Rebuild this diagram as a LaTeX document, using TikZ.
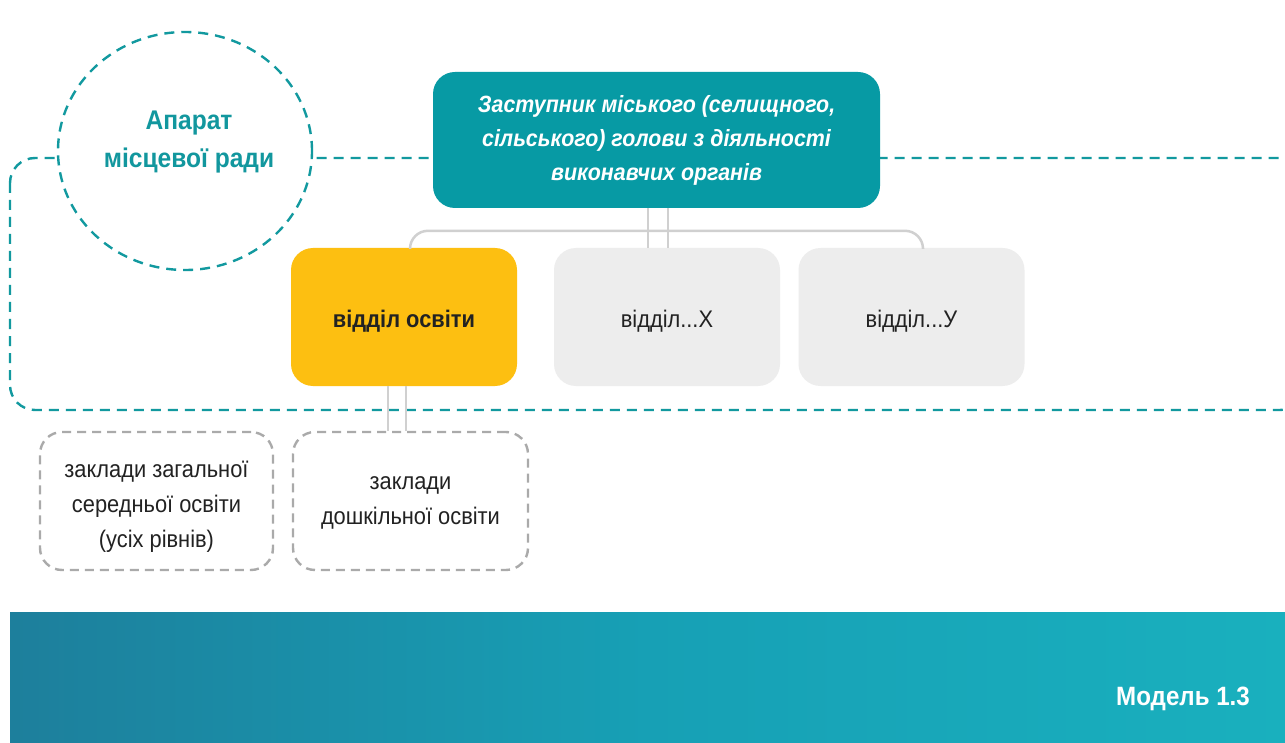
\documentclass[tikz,border=0pt]{standalone}
\usepackage{fontspec}
\setmainfont{Liberation Sans}[FakeStretch=0.91]
\usetikzlibrary{shapes.geometric,calc}
\definecolor{tealbox}{HTML}{079AA4}
\definecolor{tealline}{HTML}{12999F}
\definecolor{tealtext}{HTML}{12979E}
\definecolor{yellowbox}{HTML}{FDBF11}
\definecolor{graybox}{HTML}{EDEDED}
\definecolor{connc}{HTML}{D0D0D0}
\definecolor{dashgray}{HTML}{AAAAAA}
\definecolor{darktext}{HTML}{222222}
\definecolor{bandL}{HTML}{1D7F9C}
\definecolor{bandM}{HTML}{17A0B5}
\definecolor{bandR}{HTML}{19B0BE}
\tikzset{
  tealdash/.style={draw=tealline, line width=2.4pt, dash pattern=on 10pt off 7pt},
  unitbox/.style={rounded corners=22pt, minimum width=226pt, minimum height=138pt, inner sep=0pt, text height=20pt, text depth=0pt, text=darktext, font=\fontsize{24}{35}\selectfont},
  conn/.style={draw=connc, line width=2.5pt},
  instbox/.style={draw=dashgray, line width=2.4pt, dash pattern=on 9pt off 6pt, rounded corners=22pt, minimum height=138pt, inner sep=0pt},
  insttext/.style={align=center, text=darktext, font=\fontsize{24}{35}\selectfont},
}
\begin{document}
\begin{tikzpicture}[x=1pt,y=-1pt]
\useasboundingbox (0,0) rectangle (1285,743);
\clip (0,0) rectangle (1285,743);
\fill[white] (0,0) rectangle (1285,743);
% dashed region of the local council apparatus
\draw[tealdash, rounded corners=25pt] (10,158) rectangle (1305,410);
% circle label
\node[ellipse, tealdash, fill=white, minimum width=254pt, minimum height=238pt, inner sep=0pt] (ring) at (185,151) {};
\node[align=center, text=tealtext, font=\bfseries\fontsize{27}{38}\selectfont] (apparat) at (189,142) {Апарат\\місцевої ради};
% top box
\node[fill=tealbox, rounded corners=22pt, minimum width=447pt, minimum height=136pt, inner sep=0pt, align=center, text=white, font=\bfseries\itshape\fontsize{23.5}{34}\selectfont] (top) at (656.5,140) {Заступник міського (селищного,\\сільського) голови з діяльності\\виконавчих органів};
% unit boxes
\node[unitbox, fill=yellowbox, font=\bfseries\fontsize{24}{35}\selectfont] (edu) at (404,317) {відділ освіти};
\node[unitbox, fill=graybox] (ux) at (667,317) {відділ...Х};
\node[unitbox, fill=graybox] (uy) at (911.5,317) {відділ...У};
% connectors from top box
\draw[conn] ([xshift=-8.5pt]top.south) -- ([xshift=-8.5pt]top.south |- ux.north);
\draw[conn] ([xshift=11.5pt]top.south) -- ([xshift=11.5pt]top.south |- ux.north);
\draw[conn, rounded corners=18pt] ([xshift=6pt]edu.north) -- ++(0,-17) -| ([xshift=11.5pt]uy.north);
% institution boxes
\node[instbox, minimum width=233pt] (school) at (156.5,501) {};
\node[insttext] (schooltext) at ([yshift=-6pt]school.center) {заклади загальної\\середньої освіти\\(усіх рівнів)};
\node[instbox, minimum width=235pt] (preschool) at (410.5,501) {};
\node[insttext] (preschooltext) at ([yshift=-2pt]preschool.center) {заклади\\дошкільної освіти};
% connectors from education department
\draw[conn] ([xshift=-16pt]edu.south) -- ([xshift=-16pt]edu.south |- preschool.north);
\draw[conn] ([xshift=2pt]edu.south) -- ([xshift=2pt]edu.south |- preschool.north);
% bottom band
\shade[left color=bandL, right color=bandR, middle color=bandM] (10,612) rectangle (1285,743);
\node[text=white, font=\bfseries\fontsize{26.5}{30}\selectfont] (model) at (1183,699) {Модель 1.3};
\end{tikzpicture}
\end{document}
